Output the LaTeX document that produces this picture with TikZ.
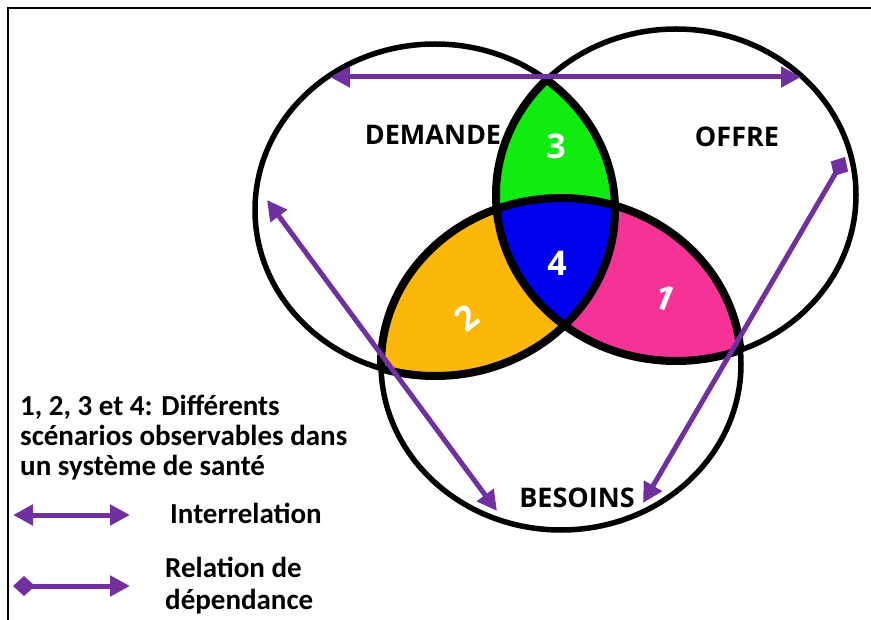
\documentclass[tikz,border=0pt]{standalone}
\usepackage{fontspec}
\setmainfont{Carlito}
\newfontfamily\labfont{Open Sans}
\usetikzlibrary{arrows.meta}
\definecolor{rel}{RGB}{112,48,160}
\definecolor{cgreen}{RGB}{16,235,16}
\definecolor{cblue}{RGB}{0,0,240}
\definecolor{corange}{RGB}{252,184,8}
\definecolor{cpink}{RGB}{245,50,150}
\tikzset{
  ER/.style={x radius=180pt, y radius=166pt},
  rim/.style={draw=black, line width=5.5pt},
  rimthick/.style={draw=black, line width=8pt},
  interrel/.style={draw=rel, line width=5pt, {Triangle[length=20pt,width=20pt]}-{Triangle[length=20pt,width=20pt]}},
  depend/.style={draw=rel, line width=5pt, {Kite[length=22pt,width=20pt,inset=11pt]}-{Triangle[length=20pt,width=20pt]}},
  setlabel/.style={font=\labfont\bfseries\fontsize{27}{31}\selectfont, text=black},
  numlabel/.style={font=\labfont\bfseries\fontsize{34}{38}\selectfont, text=white},
  legtext/.style={font=\bfseries\fontsize{29}{30}\selectfont, align=left, text=black}
}
\begin{document}
\begin{tikzpicture}[x=1pt,y=-1pt]
\useasboundingbox (0,0) rectangle (871,620);
\fill[white] (0,0) rectangle (871,620);
\draw[line width=2pt] (8,620) -- (8,8) -- (871,8);

\coordinate (cD) at (435,210);
\coordinate (cO) at (676,195);
\coordinate (cB) at (561,364);

% coloured regions
\begin{scope}
  \clip (cD) ellipse [ER];
  \fill[cgreen] (cO) ellipse [ER];
\end{scope}
\begin{scope}
  \clip (cD) ellipse [ER];
  \fill[corange] (cB) ellipse [ER];
\end{scope}
\begin{scope}
  \clip (cO) ellipse [ER];
  \fill[cpink] (cB) ellipse [ER];
\end{scope}
\begin{scope}
  \clip (cD) ellipse [ER];
  \clip (cO) ellipse [ER];
  \fill[cblue] (cB) ellipse [ER];
\end{scope}

% outlines
\path[rim] (cD) ellipse [ER];
\path[rim] (cO) ellipse [ER];
\path[rim] (cB) ellipse [ER];
\begin{scope}
  \clip (cO) ellipse [ER] (cB) ellipse [ER];
  \path[rimthick] (cD) ellipse [ER];
\end{scope}
\begin{scope}
  \clip (cD) ellipse [ER] (cB) ellipse [ER];
  \path[rimthick] (cO) ellipse [ER];
\end{scope}
\begin{scope}
  \clip (cD) ellipse [ER] (cO) ellipse [ER];
  \path[rimthick] (cB) ellipse [ER];
\end{scope}

% labels
\node[setlabel] (demande) at (433,135) {DEMANDE};
\node[setlabel] (offre) at (737,137) {OFFRE};
\node[setlabel] (besoins) at (577,498) {BESOINS};
\node[numlabel] (n3) at (556,146) {3};
\node[numlabel] (n4) at (557,263) {4};
\node[numlabel, rotate=38] (n2) at (467,318) {2};
\node[numlabel, rotate=-22] (n1) at (665,298) {1};

% relation arrows
\coordinate (tL) at (330,77);
\coordinate (tR) at (801,77);
\coordinate (lU) at (267,200);
\coordinate (lD) at (497,511);
\coordinate (rU) at (845,157);
\coordinate (rD) at (643,503);
\draw[interrel] (tL) -- (tR);
\draw[interrel] (lU) -- (lD);
\draw[depend] (rU) -- (rD);

% legend
\node[legtext, anchor=north west, inner sep=0pt] (legnote) at (20,395)
  {1, 2, 3 et 4: Différents\\scénarios observables dans\\un système de santé};
\coordinate (a1) at (13,515);
\coordinate (b1) at (130,515);
\draw[interrel] (a1) -- (b1);
\node[legtext, anchor=west, inner sep=0pt] (leg1) at (170,513) {Interrelation};
\coordinate (a2) at (13,586);
\coordinate (b2) at (130,586);
\draw[depend] (a2) -- (b2);
\node[legtext, anchor=west, inner sep=0pt, font=\bfseries\fontsize{29}{32}\selectfont] (leg2) at (165,586) {Relation de\\dépendance};
\end{tikzpicture}
\end{document}
